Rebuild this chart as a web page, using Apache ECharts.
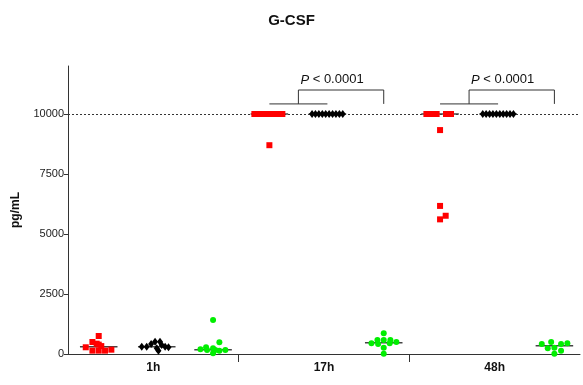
<!DOCTYPE html>
<html>
<head>
<meta charset="utf-8">
<script src="https://cdn.jsdelivr.net/npm/echarts@6/dist/echarts.min.js"></script>
<style>
  html, body { margin: 0; padding: 0; background: #fff; }
  #main { width: 583px; height: 385px; }
</style>
</head>
<body>
<div id="main"></div>
<script>
var groups = ['1h', '17h', '48h'];
var colOffset = [0.18, 0.52, 0.85];   // red, black, green column within a group
var yTicks = [0, 2500, 5000, 7500, 10000];
var limitLine = 10000;
var pText = 'P < 0.0001';
var bracketGroups = [1, 2];
var bracketLow = 10420, bracketHigh = 11000, textLevel = 11420;

// values, one list per time point
var redVals = [
    [750, 500, 430, 390, 330, 280, 180, 140, 140, 140],
    [10000, 10000, 10000, 10000, 10000, 10000, 10000, 10000, 10000, 8700],
    [10000, 10000, 10000, 10000, 10000, 10000, 9330, 6170, 5760, 5610]
];
var redJit = [
    [0, -0.037, -0.012, 0, 0.015, -0.076, 0.074, -0.037, 0, 0.037],
    [-0.088, -0.07, -0.047, -0.029, -0.006, 0.018, 0.035, 0.059, 0.076, 0],
    [-0.08, -0.05, -0.035, -0.02, 0.035, 0.064, 0, 0, 0.033, 0]
];
var blackVals = [
    [304, 304, 417, 513, 513, 375, 236, 139, 304, 280],
    [10000, 10000, 10000, 10000, 10000, 10000, 10000, 10000, 10000, 10000],
    [10000, 10000, 10000, 10000, 10000, 10000, 10000, 10000, 10000, 10000]
];
var blackJit = [
    [-0.088, -0.059, -0.033, -0.01, 0.019, 0.029, 0, 0.01, 0.049, 0.069],
    [-0.09, -0.07, -0.05, -0.03, -0.01, 0.01, 0.03, 0.05, 0.07, 0.09],
    [-0.09, -0.07, -0.05, -0.03, -0.01, 0.01, 0.03, 0.05, 0.07, 0.09]
];
var greenVals = [
    [1420, 490, 235, 280, 195, 165, 165, 140, 165, 30],
    [860, 585, 585, 585, 445, 500, 415, 445, 265, 10],
    [415, 500, 415, 445, 235, 265, 140, 10]
];
var greenJit = [
    [0, 0.037, 0, -0.041, -0.074, -0.035, 0.013, 0.037, 0.072, 0],
    [0, -0.037, 0, 0.039, -0.072, 0.074, -0.033, 0.035, 0, 0],
    [-0.074, -0.019, 0.039, 0.076, -0.039, 0, 0.039, 0]
];

var FONT = 'Liberation Sans';

function points(vals, jit, col) {
    var out = [];
    for (var g = 0; g < vals.length; g++) {
        for (var i = 0; i < vals[g].length; i++) {
            out.push([g + colOffset[col] + jit[g][i], vals[g][i]]);
        }
    }
    return out;
}

function median(arr) {
    var s = arr.slice().sort(function (a, b) { return a - b; });
    var m = Math.floor(s.length / 2);
    return s.length % 2 ? s[m] : (s[m - 1] + s[m]) / 2;
}

var medianData = [];
[redVals, blackVals, greenVals].forEach(function (vals, col) {
    vals.forEach(function (v, g) {
        medianData.push([g + colOffset[col], median(v)]);
    });
});

var myChart = echarts.init(document.getElementById('main'));
var option = {
    animation: false,
    backgroundColor: '#fff',
    title: {
        text: 'G-CSF',
        left: 'center',
        top: 8,
        textStyle: { fontFamily: FONT, fontSize: 15, fontWeight: 'bold', color: '#111' }
    },
    grid: { left: 68, right: 3, top: 66, bottom: 31 },
    xAxis: {
        type: 'value',
        min: 0,
        max: 3,
        splitLine: { show: false },
        axisLine: { lineStyle: { color: '#333', width: 1 } },
        axisTick: { customValues: [1, 2], length: 8, lineStyle: { color: '#333' } },
        axisLabel: {
            customValues: [0.5, 1.5, 2.5],
            formatter: function (v) { return groups[Math.floor(v)]; },
            fontFamily: FONT, fontSize: 12, fontWeight: 'bold', color: '#111', margin: 8
        }
    },
    yAxis: {
        type: 'value',
        min: 0,
        max: 12000,
        name: 'pg/mL',
        nameLocation: 'middle',
        nameGap: 46,
        nameTextStyle: { fontFamily: FONT, fontSize: 12, fontWeight: 'bold', color: '#111' },
        splitLine: { show: false },
        axisLine: { show: true, lineStyle: { color: '#333', width: 1 } },
        axisTick: { show: true, customValues: yTicks, length: 4, lineStyle: { color: '#333' } },
        axisLabel: {
            customValues: yTicks,
            formatter: function (v) { return String(v); },
            fontFamily: FONT, fontSize: 11, color: '#222', margin: 4
        }
    },
    series: [
        {
            type: 'custom',
            name: 'median',
            z: 1,
            encode: { x: 0, y: 1 },
            data: medianData,
            renderItem: function (params, api) {
                var x = api.value(0), y = api.value(1);
                var a = api.coord([x - 0.11, y]);
                var b = api.coord([x + 0.11, y]);
                return {
                    type: 'line',
                    shape: { x1: a[0], y1: a[1], x2: b[0], y2: b[1] },
                    style: { stroke: '#444', lineWidth: 1.5 }
                };
            },
            markLine: {
                silent: true,
                symbol: 'none',
                z: 1,
                label: { show: false },
                lineStyle: { type: [2, 2], color: '#333', width: 1, opacity: 1 },
                data: [{ yAxis: limitLine }]
            }
        },
        {
            type: 'scatter',
            name: 'red',
            z: 10,
            symbol: 'rect',
            symbolSize: 6,
            itemStyle: { color: '#ff0000', opacity: 1 },
            data: points(redVals, redJit, 0)
        },
        {
            type: 'scatter',
            name: 'black',
            z: 10,
            symbol: 'diamond',
            symbolSize: [6, 8],
            itemStyle: { color: '#000', opacity: 1 },
            data: points(blackVals, blackJit, 1)
        },
        {
            type: 'scatter',
            name: 'green',
            z: 10,
            symbol: 'circle',
            symbolSize: 6,
            itemStyle: { color: '#00ee00', opacity: 1 },
            data: points(greenVals, greenJit, 2)
        },
        {
            type: 'custom',
            name: 'brackets',
            z: 2,
            encode: { x: 0, y: 1 },
            data: bracketGroups.map(function (g) { return [g, bracketLow]; }),
            renderItem: function (params, api) {
                var g = api.value(0);
                var rc = g + colOffset[0], bc = g + colOffset[1], gc = g + colOffset[2];
                var mid = (rc + bc) / 2;
                var p1 = api.coord([rc, bracketLow]), p2 = api.coord([bc, bracketLow]);
                var m1 = api.coord([mid, bracketLow]), m2 = api.coord([mid, bracketHigh]);
                var g1 = api.coord([gc, bracketHigh]), g2 = api.coord([gc, bracketLow]);
                var t = api.coord([mid, textLevel]);
                var st = { stroke: '#333', lineWidth: 1, fill: null };
                return {
                    type: 'group',
                    children: [
                        { type: 'polyline', shape: { points: [p1, p2] }, style: st },
                        { type: 'polyline', shape: { points: [m1, m2, g1, g2] }, style: st },
                        {
                            type: 'text',
                            x: t[0] + 2,
                            y: t[1],
                            style: {
                                text: '{i|P} < 0.0001',
                                rich: { i: { fontStyle: 'italic', fontFamily: FONT, fontSize: 13, fill: '#111' } },
                                fontFamily: FONT, fontSize: 13, fill: '#111',
                                align: 'left', verticalAlign: 'middle'
                            }
                        }
                    ]
                };
            }
        }
    ]
};
myChart.setOption(option);
</script>
</body>
</html>
